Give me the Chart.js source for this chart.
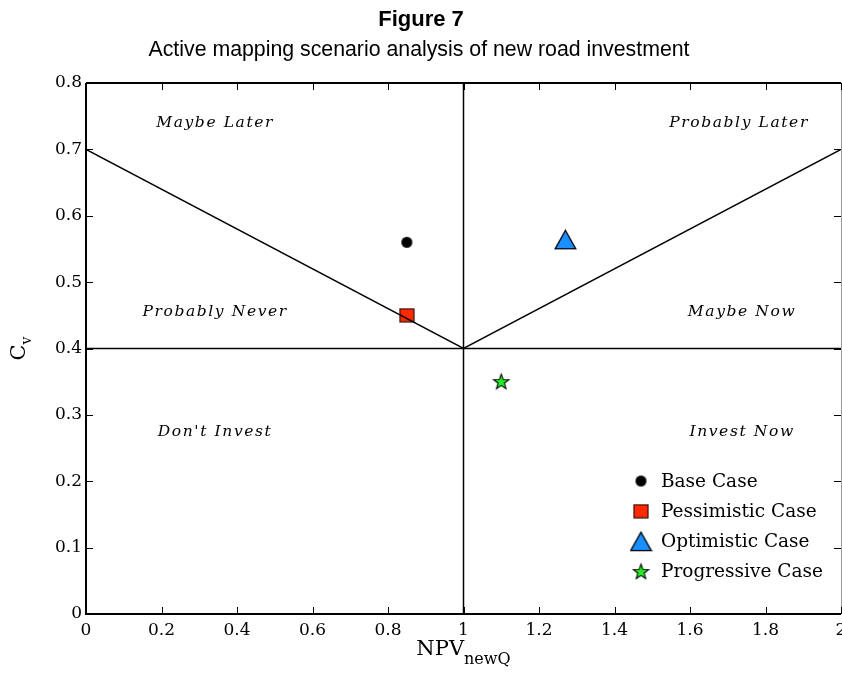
<!DOCTYPE html>
<html>
<head>
<meta charset="utf-8">
<script src="https://cdn.jsdelivr.net/npm/chart.js@4.4.1/dist/chart.umd.min.js"></script>
<style>
  html, body { margin: 0; padding: 0; background: #ffffff; }
  #wrap { width: 842px; height: 675px; }
</style>
</head>
<body>
<div id="wrap"><canvas id="c" width="842" height="675"></canvas></div>
<script>
// ---------- data ----------
const seriesNames = ['Base Case', 'Pessimistic Case', 'Optimistic Case', 'Progressive Case'];
const seriesX = [0.85, 0.85, 1.27, 1.10];
const seriesY = [0.56, 0.45, 0.564, 0.35];

const boundaryX = [0, 1, 2];
const boundaryY = [0.7, 0.4, 0.7];
const hLineX = [0, 2];
const hLineY = [0.4, 0.4];
const vLineX = [1, 1];
const vLineY = [0, 0.8];

const regionLabels = ['Maybe Later', 'Probably Later', 'Probably Never', 'Maybe Now', "Don't Invest", 'Invest Now'];
const regionX = [0.342, 1.73, 0.342, 1.738, 0.342, 1.738];
const regionY = [0.74, 0.74, 0.455, 0.455, 0.275, 0.275];

const xTicks = [0, 0.2, 0.4, 0.6, 0.8, 1, 1.2, 1.4, 1.6, 1.8, 2];
const xTickLabels = ['0', '0.2', '0.4', '0.6', '0.8', '1', '1.2', '1.4', '1.6', '1.8', '2'];
const yTicks = [0, 0.1, 0.2, 0.3, 0.4, 0.5, 0.6, 0.7, 0.8];
const yTickLabels = ['0', '0.1', '0.2', '0.3', '0.4', '0.5', '0.6', '0.7', '0.8'];

const titleText = 'Figure 7';
const subtitleText = 'Active mapping scenario analysis of new road investment';

// ---------- marker images ----------
function makeCanvas(w, h, draw) {
  const cv = document.createElement('canvas');
  cv.width = w; cv.height = h;
  const g = cv.getContext('2d');
  draw(g, w, h);
  return cv;
}
const circleImg = makeCanvas(13, 13, (g) => {
  g.beginPath(); g.arc(6.5, 6.5, 5.5, 0, Math.PI * 2);
  g.fillStyle = '#000'; g.fill();
});
const squareImg = makeCanvas(16, 15, (g) => {
  g.fillStyle = '#ff2a00'; g.fillRect(1, 1, 14, 13);
  g.strokeStyle = '#3a0a00'; g.lineWidth = 1.2; g.strokeRect(1, 1, 14, 13);
});
const triangleImg = makeCanvas(23, 21, (g) => {
  g.beginPath(); g.moveTo(11.5, 1.2); g.lineTo(21.8, 19.6); g.lineTo(1.2, 19.6); g.closePath();
  g.fillStyle = '#1a8fff'; g.fill();
  g.strokeStyle = '#000'; g.lineWidth = 1.3; g.lineJoin = 'miter'; g.stroke();
});
const starImg = makeCanvas(19, 19, (g) => {
  const cx = 9.5, cy = 10, ro = 8.0, ri = 3.3;
  g.beginPath();
  for (let i = 0; i < 10; i++) {
    const r = i % 2 === 0 ? ro : ri;
    const a = -Math.PI / 2 + i * Math.PI / 5;
    const px = cx + r * Math.cos(a), py = cy + r * Math.sin(a);
    if (i === 0) g.moveTo(px, py); else g.lineTo(px, py);
  }
  g.closePath();
  g.fillStyle = '#22ee22'; g.fill();
  g.strokeStyle = '#000'; g.lineWidth = 1.1; g.stroke();
});
const markerImgs = [circleImg, squareImg, triangleImg, starImg];

// ---------- datasets ----------
function pts(xs, ys) { return xs.map((x, i) => ({ x: x, y: ys[i] })); }
const lineStyle = { type: 'line', borderColor: '#000', borderWidth: 1.5, pointRadius: 0, fill: false, tension: 0 };

const datasets = [
  Object.assign({ label: 'boundary', data: pts(boundaryX, boundaryY) }, lineStyle),
  Object.assign({ label: 'hline', data: pts(hLineX, hLineY) }, lineStyle),
  Object.assign({ label: 'vline', data: pts(vLineX, vLineY) }, lineStyle)
];
seriesNames.forEach((name, i) => {
  datasets.push({
    type: 'scatter', label: name,
    data: [{ x: seriesX[i], y: seriesY[i] }],
    pointStyle: markerImgs[i], pointRadius: 8, pointHoverRadius: 8
  });
});

const SERIF = '"DejaVu Serif", "Liberation Serif", serif';
const SANS = '"Liberation Sans", Arial, sans-serif';

// ---------- decorations plugin ----------
const deco = {
  id: 'deco',
  afterDraw(chart) {
    const ctx = chart.ctx;
    const a = chart.chartArea;
    const xs = chart.scales.x, ys = chart.scales.y;
    ctx.save();

    // frame
    ctx.strokeStyle = '#000';
    ctx.lineWidth = 2;
    ctx.beginPath();
    ctx.moveTo(a.left, a.top); ctx.lineTo(a.left, a.bottom); ctx.lineTo(a.right, a.bottom);
    ctx.moveTo(a.left, a.top); ctx.lineTo(a.right, a.top);
    ctx.stroke();
    ctx.strokeStyle = '#9a9a9a'; ctx.lineWidth = 1;
    ctx.beginPath(); ctx.moveTo(a.right + 0.5, a.top); ctx.lineTo(a.right + 0.5, a.bottom); ctx.stroke();

    // inward ticks
    ctx.strokeStyle = '#000'; ctx.lineWidth = 1;
    const tl = 7;
    ctx.beginPath();
    xs.ticks.forEach((t) => {
      const px = Math.round(xs.getPixelForValue(t.value)) + 0.5;
      ctx.moveTo(px, a.bottom); ctx.lineTo(px, a.bottom - tl);
      ctx.moveTo(px, a.top); ctx.lineTo(px, a.top + tl);
    });
    ys.ticks.forEach((t) => {
      const py = Math.round(ys.getPixelForValue(t.value)) + 0.5;
      ctx.moveTo(a.left, py); ctx.lineTo(a.left + tl, py);
      ctx.moveTo(a.right, py); ctx.lineTo(a.right - tl, py);
    });
    ctx.stroke();

    // region labels
    ctx.fillStyle = '#000';
    ctx.font = 'italic 15.5px ' + SERIF;
    try { ctx.letterSpacing = '1.6px'; } catch (e) {}
    ctx.textAlign = 'center'; ctx.textBaseline = 'middle';
    regionLabels.forEach((txt, i) => {
      ctx.fillText(txt, xs.getPixelForValue(regionX[i]), ys.getPixelForValue(regionY[i]));
    });
    try { ctx.letterSpacing = '0px'; } catch (e) {}

    // legend
    const lx = 641, ly0 = 481, lstep = 30.2;
    ctx.font = '18.5px ' + SERIF;
    ctx.textAlign = 'left'; ctx.textBaseline = 'middle';
    seriesNames.forEach((name, i) => {
      const img = markerImgs[i];
      const cy = ly0 + i * lstep;
      ctx.drawImage(img, lx - img.width / 2, cy - img.height / 2);
      ctx.fillText(name, 661, cy + 1);
    });

    // titles
    ctx.textAlign = 'center'; ctx.textBaseline = 'middle';
    ctx.font = 'bold 22px ' + SANS;
    ctx.fillText(titleText, 421, 20);
    ctx.font = '21.3px ' + SANS;
    ctx.fillText(subtitleText, 419, 50);

    // x axis title
    const cxT = (a.left + a.right) / 2;
    ctx.textBaseline = 'alphabetic';
    ctx.font = '21px ' + SERIF;
    const w1 = ctx.measureText('NPV').width;
    ctx.font = '16px ' + SERIF;
    const w2 = ctx.measureText('newQ').width;
    const sx = cxT - (w1 + w2) / 2;
    ctx.textAlign = 'left';
    ctx.font = '21px ' + SERIF;
    ctx.fillText('NPV', sx, 655);
    ctx.font = '16px ' + SERIF;
    ctx.fillText('newQ', sx + w1, 664);

    // y axis title
    ctx.save();
    ctx.translate(25, (a.top + a.bottom) / 2);
    ctx.rotate(-Math.PI / 2);
    ctx.font = '21px ' + SERIF;
    const c1 = ctx.measureText('C').width;
    ctx.font = '14px ' + SERIF;
    const c2 = ctx.measureText('v').width;
    const sy = -(c1 + c2) / 2;
    ctx.font = '21px ' + SERIF;
    ctx.fillText('C', sy, 0);
    ctx.font = '14px ' + SERIF;
    ctx.fillText('v', sy + c1, 6);
    ctx.restore();

    ctx.restore();
  }
};

new Chart(document.getElementById('c'), {
  type: 'scatter',
  data: { datasets: datasets },
  plugins: [deco],
  options: {
    responsive: false,
    animation: false,
    devicePixelRatio: 1,
    layout: { autoPadding: false, padding: { top: 83, left: 0, right: 1, bottom: 0 } },
    plugins: { legend: { display: false }, title: { display: false }, tooltip: { enabled: false } },
    scales: {
      x: {
        type: 'linear', min: 0, max: 2,
        afterBuildTicks: (s) => { s.ticks = xTicks.map((v) => ({ value: v })); },
        afterFit: (s) => { s.height = 61; s.paddingLeft = 0; s.paddingRight = 0; },
        grid: { display: false, drawTicks: false },
        border: { display: false },
        ticks: {
          padding: 6, color: '#000', maxRotation: 0, autoSkip: false,
          font: { family: SERIF, size: 17 },
          callback: (v, i) => xTickLabels[i]
        }
      },
      y: {
        type: 'linear', min: 0, max: 0.8,
        afterBuildTicks: (s) => { s.ticks = yTicks.map((v) => ({ value: v })); },
        afterFit: (s) => { s.width = 86; s.paddingTop = 0; s.paddingBottom = 0; },
        grid: { display: false, drawTicks: false },
        border: { display: false },
        ticks: {
          padding: 4, color: '#000', autoSkip: false,
          font: { family: SERIF, size: 17 },
          callback: (v, i) => yTickLabels[i]
        }
      }
    }
  }
});
</script>
</body>
</html>
